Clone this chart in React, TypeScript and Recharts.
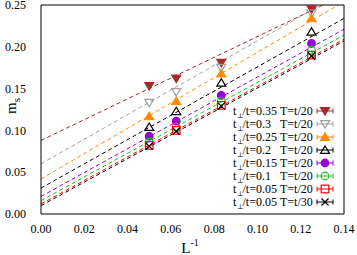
import React from 'react';
import { ComposedChart, Line, Scatter, XAxis, YAxis } from 'recharts';

// inverse system size, L = 20, 16, 12, 8
const L_INV = [0.05, 0.0625, 0.0833, 0.125];

const ms035 = [0.153, 0.162, 0.181, 0.245];
const ms030 = [0.133, 0.146, 0.175, 0.24];
const ms025 = [0.117, 0.135, 0.168, 0.234];
const ms020 = [0.104, 0.123, 0.157, 0.218];
const ms015 = [0.093, 0.111, 0.142, 0.204];
const ms010 = [0.086, 0.104, 0.135, 0.196];
const ms005 = [0.082, 0.1, 0.13, 0.19];
const ms005T30 = [0.081, 0.099, 0.129, 0.189];

// linear fits, value at L^-1 = 0 and at 0.14
const FIT_X = [0, 0.14];
const fit035 = [0.088, 0.262];
const fit030 = [0.06, 0.266];
const fit025 = [0.042, 0.254];
const fit020 = [0.031, 0.234];
const fit015 = [0.021, 0.221];
const fit010 = [0.016, 0.214];
const fit005 = [0.012, 0.209];
const fit005T30 = [0.01, 0.207];

const X_TICKS = [0, 0.02, 0.04, 0.06, 0.08, 0.1, 0.12, 0.14];
const X_MINOR = [0.01, 0.03, 0.05, 0.07, 0.09, 0.11, 0.13];
const Y_TICKS = [0, 0.05, 0.1, 0.15, 0.2, 0.25];
const Y_MINOR = [0.025, 0.075, 0.125, 0.175, 0.225];

const series = [
  { tp: '0.35', temp: 'T=t/20', vals: ms035, fit: fit035, color: '#a52a2a', marker: 'tridown', filled: true },
  { tp: '0.3', temp: 'T=t/20', vals: ms030, fit: fit030, color: '#a0a0a0', marker: 'tridown', filled: false },
  { tp: '0.25', temp: 'T=t/20', vals: ms025, fit: fit025, color: '#ff8c00', marker: 'triup', filled: true },
  { tp: '0.2', temp: 'T=t/20', vals: ms020, fit: fit020, color: '#000000', marker: 'triup', filled: false },
  { tp: '0.15', temp: 'T=t/20', vals: ms015, fit: fit015, color: '#9400d3', marker: 'circle', filled: true },
  { tp: '0.1', temp: 'T=t/20', vals: ms010, fit: fit010, color: '#22c022', marker: 'circle', filled: false },
  { tp: '0.05', temp: 'T=t/20', vals: ms005, fit: fit005, color: '#ff0000', marker: 'square', filled: false },
  { tp: '0.05', temp: 'T=t/30', vals: ms005T30, fit: fit005T30, color: '#000000', marker: 'cross', filled: false },
];

const FONT = '"Liberation Serif", "DejaVu Serif", serif';

function Marker({ cx, cy, kind, filled, color }: any) {
  const s = 4.5;
  const fill = filled ? color : 'none';
  if (kind === 'tridown') {
    return <polygon points={`${cx - s},${cy - s * 0.75} ${cx + s},${cy - s * 0.75} ${cx},${cy + s * 0.9}`} fill={fill} stroke={color} strokeWidth={1.2} />;
  }
  if (kind === 'triup') {
    return <polygon points={`${cx - s},${cy + s * 0.75} ${cx + s},${cy + s * 0.75} ${cx},${cy - s * 0.9}`} fill={fill} stroke={color} strokeWidth={1.2} />;
  }
  if (kind === 'circle') {
    return <circle cx={cx} cy={cy} r={3.8} fill={fill} stroke={color} strokeWidth={1.2} />;
  }
  if (kind === 'square') {
    return <rect x={cx - 3.8} y={cy - 3.8} width={7.6} height={7.6} fill={fill} stroke={color} strokeWidth={1.2} />;
  }
  return (
    <g stroke={color} strokeWidth={1.2}>
      <line x1={cx - 3.5} y1={cy - 3.5} x2={cx + 3.5} y2={cy + 3.5} />
      <line x1={cx - 3.5} y1={cy + 3.5} x2={cx + 3.5} y2={cy - 3.5} />
    </g>
  );
}

const tickStyle = { fontSize: 12, fill: '#000', fontFamily: FONT };
const fmt = (v: number) => v.toFixed(2);

export default function App() {
  return (
    <div style={{ position: 'absolute', left: 0, top: 0, width: 357, height: 255, background: '#fff', fontFamily: FONT }}>
      <ComposedChart width={357} height={255} margin={{ top: 5, right: 13, left: 0, bottom: 0 }}>
        <XAxis xAxisId="x" dataKey="x" type="number" domain={[0, 0.14]} ticks={X_TICKS} interval={0}
          allowDataOverflow height={41} tickLine={false} axisLine={false} tickSize={6} tickMargin={4}
          tickFormatter={fmt} tick={tickStyle} />
        <YAxis yAxisId="y" dataKey="y" type="number" domain={[0, 0.25]} ticks={Y_TICKS} interval={0}
          allowDataOverflow width={41} tickLine={false} axisLine={false} tickSize={6} tickMargin={9}
          tickFormatter={fmt} tick={tickStyle} />

        {/* inward tick marks and frame */}
        <XAxis xAxisId="b1" type="number" domain={[0, 0.14]} ticks={X_TICKS} interval={0} allowDataOverflow
          orientation="bottom" mirror tick={false} tickSize={7} stroke="#000" />
        <XAxis xAxisId="b2" type="number" domain={[0, 0.14]} ticks={X_MINOR} interval={0} allowDataOverflow
          orientation="bottom" mirror tick={false} tickSize={3.5} axisLine={false} stroke="#000" />
        <XAxis xAxisId="t1" type="number" domain={[0, 0.14]} ticks={X_TICKS} interval={0} allowDataOverflow
          orientation="top" mirror tick={false} tickSize={7} stroke="#000" />
        <XAxis xAxisId="t2" type="number" domain={[0, 0.14]} ticks={X_MINOR} interval={0} allowDataOverflow
          orientation="top" mirror tick={false} tickSize={3.5} axisLine={false} stroke="#000" />
        <YAxis yAxisId="l1" type="number" domain={[0, 0.25]} ticks={Y_TICKS} interval={0} allowDataOverflow
          orientation="left" mirror tick={false} tickSize={7} stroke="#000" />
        <YAxis yAxisId="l2" type="number" domain={[0, 0.25]} ticks={Y_MINOR} interval={0} allowDataOverflow
          orientation="left" mirror tick={false} tickSize={3.5} axisLine={false} stroke="#000" />
        <YAxis yAxisId="r1" type="number" domain={[0, 0.25]} ticks={Y_TICKS} interval={0} allowDataOverflow
          orientation="right" mirror tick={false} tickSize={7} stroke="#000" />
        <YAxis yAxisId="r2" type="number" domain={[0, 0.25]} ticks={Y_MINOR} interval={0} allowDataOverflow
          orientation="right" mirror tick={false} tickSize={3.5} axisLine={false} stroke="#000" />

        {series.map((s, i) => (
          <Line key={`fit${i}`} xAxisId="x" yAxisId="y" type="linear" dataKey="y"
            data={FIT_X.map((x, j) => ({ x, y: s.fit[j] }))}
            stroke={s.color} strokeWidth={1} strokeDasharray="4 3" dot={false} activeDot={false}
            isAnimationActive={false} />
        ))}
        {series.map((s, i) => (
          <Scatter key={`pts${i}`} xAxisId="x" yAxisId="y" dataKey="y"
            data={L_INV.map((x, j) => ({ x, y: s.vals[j] }))}
            shape={(p: any) => <Marker cx={p.cx} cy={p.cy} kind={s.marker} filled={s.filled} color={s.color} />}
            isAnimationActive={false} />
        ))}
      </ComposedChart>

      <svg width={357} height={255} style={{ position: 'absolute', left: 0, top: 0, pointerEvents: 'none' }}
        fontFamily={FONT}>
        <text transform="translate(16,106) rotate(-90)" fontSize={15} textAnchor="middle" fill="#000">
          m<tspan fontSize={11} dy={4}>s</tspan>
        </text>
        <text x={190} y={253} fontSize={15} textAnchor="middle" fill="#000">
          L<tspan fontSize={10} dy={-7}>-1</tspan>
        </text>
        {series.map((s, i) => {
          const cy = 111 + i * 13;
          return (
            <g key={i}>
              <text x={233} y={cy + 4} fontSize={12} fill="#000">
                t<tspan x={237} dy={3} fontSize={7}>⊥</tspan>
                <tspan x={242.5} dy={-3}>/t={s.tp}</tspan>
              </text>
              <text x={280} y={cy + 4} fontSize={12} fill="#000">{s.temp}</text>
              <g stroke={s.color} strokeWidth={1}>
                <line x1={317} y1={cy} x2={333} y2={cy} />
                <line x1={317} y1={cy - 2.5} x2={317} y2={cy + 2.5} />
                <line x1={333} y1={cy - 2.5} x2={333} y2={cy + 2.5} />
              </g>
              <Marker cx={325} cy={cy} kind={s.marker} filled={s.filled} color={s.color} />
            </g>
          );
        })}
      </svg>
    </div>
  );
}
